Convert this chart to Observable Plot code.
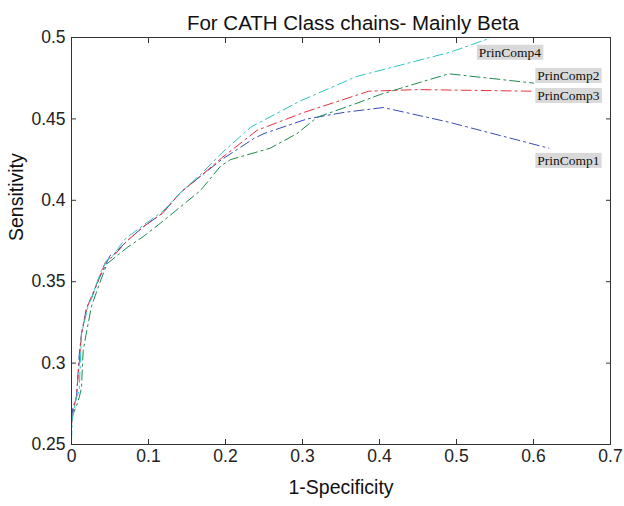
<!DOCTYPE html>
<html>
<head>
<meta charset="utf-8">
<script src="https://cdn.jsdelivr.net/npm/d3@7"></script>
<script src="https://cdn.jsdelivr.net/npm/@observablehq/plot@0.6"></script>
<style>
  html, body { margin: 0; padding: 0; background: #fff; }
  #chart { width: 624px; height: 506px; }
</style>
</head>
<body>
<div id="chart"></div>
<script>
// ---- data ----
const titleText = "For CATH Class chains- Mainly Beta";
const xLabel = "1-Specificity";
const yLabel = "Sensitivity";

const xTicks = [0, 0.1, 0.2, 0.3, 0.4, 0.5, 0.6, 0.7];
const yTicks = [0.25, 0.3, 0.35, 0.4, 0.45, 0.5];

const seriesNames = ["PrinComp1", "PrinComp2", "PrinComp3", "PrinComp4"];

const pc1X = [0, 0.002, 0.0065, 0.01, 0.013, 0.0195, 0.026, 0.036, 0.044, 0.050, 0.055, 0.072, 0.094, 0.118, 0.142, 0.168, 0.195, 0.237, 0.25, 0.306, 0.354, 0.405, 0.49, 0.62];
const pc1Y = [0.266, 0.273, 0.279, 0.305, 0.318, 0.334, 0.340, 0.352, 0.360, 0.366, 0.367, 0.375, 0.384, 0.392, 0.405, 0.415, 0.425, 0.438, 0.441, 0.450, 0.454, 0.457, 0.448, 0.432];

const pc2X = [0, 0.002, 0.0065, 0.01, 0.013, 0.0143, 0.0152, 0.0186, 0.026, 0.035, 0.046, 0.062, 0.0723, 0.094, 0.1156, 0.1416, 0.1675, 0.1935, 0.2065, 0.258, 0.293, 0.319, 0.367, 0.401, 0.453, 0.49, 0.6];
const pc2Y = [0.266, 0.2686, 0.2737, 0.2788, 0.285, 0.2993, 0.3075, 0.3167, 0.335, 0.347, 0.361, 0.367, 0.371, 0.378, 0.386, 0.396, 0.406, 0.421, 0.425, 0.432, 0.441, 0.451, 0.459, 0.465, 0.4725, 0.4777, 0.472];

const pc3X = [0, 0.002, 0.0065, 0.01, 0.013, 0.02, 0.026, 0.034, 0.044, 0.055, 0.072, 0.094, 0.118, 0.142, 0.168, 0.195, 0.241, 0.302, 0.386, 0.45, 0.6];
const pc3Y = [0.262, 0.270, 0.280, 0.300, 0.318, 0.334, 0.341, 0.350, 0.362, 0.366, 0.375, 0.384, 0.392, 0.405, 0.415, 0.426, 0.443, 0.454, 0.467, 0.468, 0.467];

const pc4X = [0, 0.001, 0.0065, 0.01, 0.013, 0.0216, 0.026, 0.0303, 0.039, 0.0455, 0.054, 0.069, 0.094, 0.118, 0.142, 0.168, 0.195, 0.233, 0.297, 0.37, 0.427, 0.492, 0.54];
const pc4Y = [0.252, 0.266, 0.279, 0.283, 0.318, 0.335, 0.340, 0.346, 0.357, 0.363, 0.366, 0.376, 0.385, 0.393, 0.405, 0.416, 0.429, 0.445, 0.461, 0.476, 0.483, 0.491, 0.499];

// label anchor points (data coordinates)
const labelX = [0.605, 0.605, 0.605, 0.529];
const labelY = [0.4244, 0.4766, 0.4643, 0.4908];

// ---- build tables ----
const seriesXs = [pc1X, pc2X, pc3X, pc4X];
const seriesYs = [pc1Y, pc2Y, pc3Y, pc4Y];
const colors = ["#3a4ab8", "#1f8a4c", "#e8323c", "#2cc6c2"];

const lines = seriesNames.map((name, i) =>
  Plot.line(seriesXs[i].map((x, j) => ({x, y: seriesYs[i][j]})), {
    x: "x", y: "y",
    stroke: colors[i],
    strokeWidth: 1,
    strokeDasharray: "10,4,2,4",
    clip: true
  })
);

const labels = seriesNames.map((name, i) => ({name, x: labelX[i], y: labelY[i]}));

const fontSans = "'Liberation Sans', Arial, Helvetica, sans-serif";

const plot = Plot.plot({
  width: 624,
  height: 506,
  marginLeft: 71,
  marginRight: 14,
  marginTop: 37,
  marginBottom: 62,
  style: {fontFamily: fontSans, background: "#fff", color: "#222"},
  x: {domain: [0, 0.7], ticks: xTicks},
  y: {domain: [0.25, 0.5], ticks: yTicks},
  marks: [
    ...lines,
    Plot.frame({stroke: "#333", strokeWidth: 1}),
    // inward ticks on all four sides
    Plot.axisX(xTicks, {anchor: "bottom", tickSize: -5, tickFormat: () => "", label: null, stroke: "#333"}),
    Plot.axisX(xTicks, {anchor: "top", tickSize: -5, tickFormat: () => "", label: null, stroke: "#333"}),
    Plot.axisY(yTicks, {anchor: "left", tickSize: -5, tickFormat: () => "", label: null, stroke: "#333"}),
    Plot.axisY(yTicks, {anchor: "right", tickSize: -5, tickFormat: () => "", label: null, stroke: "#333"}),
    // tick labels
    Plot.axisX(xTicks, {anchor: "bottom", tickSize: 0, tickPadding: 5, tickFormat: d => String(d), label: null, fontSize: 17.5, fill: "#222"}),
    Plot.axisY(yTicks, {anchor: "left", tickSize: 0, tickPadding: 6, tickFormat: d => String(d), label: null, fontSize: 17.5, fill: "#222"}),
    // series labels
    Plot.text(labels, {
      x: "x", y: "y", text: "name",
      textAnchor: "start",
      fontFamily: "'Liberation Serif', 'Times New Roman', serif",
      fontSize: 13.5,
      fill: "#111",
      className: "series-label"
    }),
    // title and axis labels
    Plot.text([titleText], {frameAnchor: "top", dy: -22, dx: 12, fontSize: 20.5, fill: "#111"}),
    Plot.text([xLabel], {frameAnchor: "bottom", dy: 49, fontSize: 19.5, fill: "#111"}),
    Plot.text([yLabel], {frameAnchor: "left", dx: -55, rotate: -90, fontSize: 19.5, fill: "#111"})
  ]
});

document.getElementById("chart").appendChild(plot);

// grey boxes behind the series labels
plot.querySelectorAll(".series-label text").forEach(t => {
  const b = t.getBBox();
  const r = document.createElementNS("http://www.w3.org/2000/svg", "rect");
  r.setAttribute("x", b.x - 2);
  r.setAttribute("y", b.y);
  r.setAttribute("width", b.width + 4);
  r.setAttribute("height", b.height);
  r.setAttribute("fill", "#d9d9d9");
  const tr = t.getAttribute("transform");
  if (tr) r.setAttribute("transform", tr);
  t.parentNode.insertBefore(r, t);
});
</script>
</body>
</html>
